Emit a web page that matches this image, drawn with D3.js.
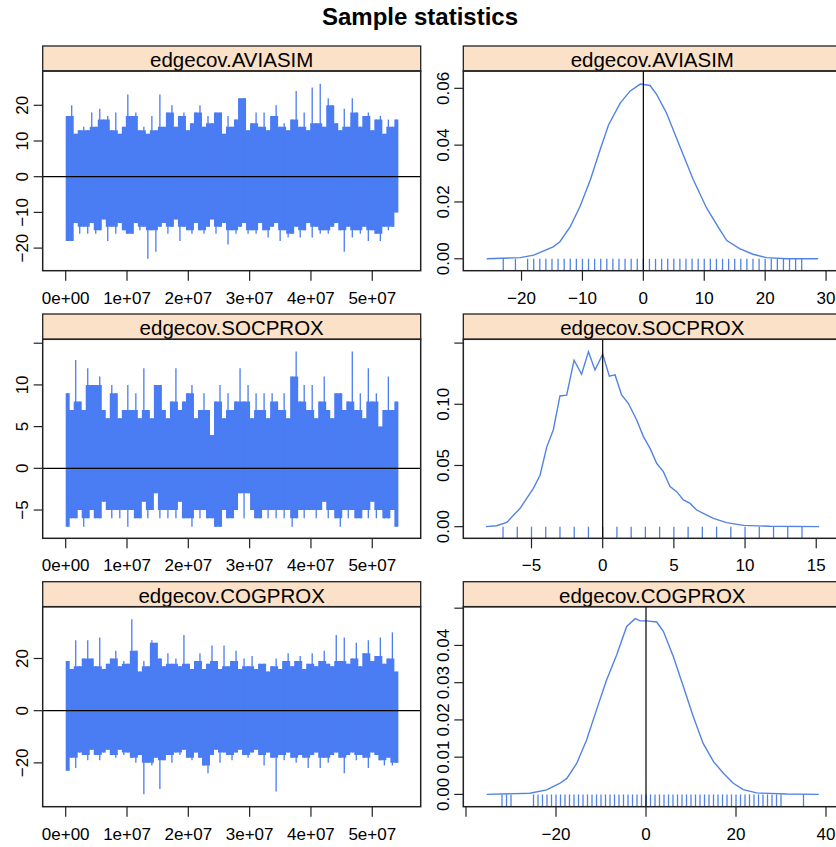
<!DOCTYPE html>
<html>
<head>
<meta charset="utf-8">
<script src="https://cdn.jsdelivr.net/npm/d3@7"></script>
<style>
  body { margin: 0; background: #fff; }
  svg { display: block; font-family: "Liberation Sans", Arial, Helvetica, sans-serif; }
</style>
</head>
<body>
<div id="vis"></div>
<script>
const W = 836, H = 847;

// ---- data ----
const paramNames = ["edgecov.AVIASIM", "edgecov.SOCPROX", "edgecov.COGPROX"];
const lastIter = 54260000;

// trace envelopes, max / min of each bin of iterations
const aviaHi = [17,20,12,13,14,13,18,14,19,16, 17,13,18,12,14,23,17,18,13,14,
  12,17,13,23,14,18,20,14,17,18, 13,15,18,20,14,17,15,18,18,12,
  17,14,16,22,22,13,15,18,14,18, 13,17,20,14,15,13,16,24,14,18,
  13,25,15,26,14,22,20,15,13,19, 14,22,18,14,17,18,13,16,17,12, 16,14,16];
const aviaLo = [-18,-18,-13,-16,-14,-16,-13,-16,-15,-12, -18,-14,-16,-13,-15,-16,-16,-13,-15,-14,
  -23,-15,-21,-14,-13,-16,-14,-12,-18,-14, -15,-16,-13,-15,-16,-14,-12,-16,-14,-13,
  -19,-15,-16,-14,-13,-16,-15,-16,-13,-15, -17,-14,-13,-18,-15,-17,-16,-14,-17,-15,
  -13,-17,-14,-16,-15,-16,-14,-13,-15,-21, -14,-17,-15,-16,-14,-18,-15,-16,-18,-14, -15,-14,-10];

const socHi = [9,7,13,8,7,12,10,10,11,7, 6,10,9,6,7,10,7,9,6,12,
  7,6,10,10,7,6,8,12,7,8, 9,10,6,7,9,7,4,8,10,6,
  9,7,8,12,8,10,6,9,7,9, 6,9,8,7,9,6,11,14,8,10,
  7,10,6,8,11,7,6,9,9,7, 8,14,7,9,6,12,8,9,5,7, 11,7,8];
const socLo = [-7,-6,-6,-5,-7,-6,-5,-6,-6,-4, -5,-6,-5,-6,-5,-7,-5,-6,-6,-4,
  -6,-5,-3,-6,-5,-6,-5,-6,-4,-6, -6,-7,-5,-6,-5,-6,-6,-7,-7,-5,
  -6,-6,-5,-3,-6,-3,-5,-6,-6,-5, -6,-5,-6,-5,-6,-5,-7,-6,-5,-6,
  -5,-5,-6,-5,-4,-6,-5,-6,-7,-5, -6,-5,-6,-6,-5,-6,-4,-6,-5,-6, -6,-5,-7];

const cogHi = [19,16,27,17,20,27,20,17,28,16, 18,20,23,17,19,18,35,23,15,19,
  17,27,26,20,17,22,18,20,17,29, 18,16,19,22,16,18,25,19,16,25,
  17,19,23,16,20,17,21,16,18,18, 15,17,20,16,19,22,17,19,21,16,
  18,22,17,19,23,18,17,29,19,28, 18,20,26,17,22,27,19,21,28,18, 20,30,15];
const cogLo = [-23,-18,-22,-16,-17,-19,-15,-17,-19,-16, -15,-17,-18,-15,-17,-16,-18,-20,-17,-32,
  -20,-21,-18,-30,-19,-17,-20,-16,-17,-15, -18,-19,-16,-18,-21,-24,-17,-15,-20,-16,
  -17,-19,-16,-15,-17,-18,-16,-15,-17,-21, -16,-18,-31,-17,-19,-16,-18,-20,-17,-18,
  -22,-17,-16,-22,-18,-20,-17,-16,-18,-24, -17,-16,-19,-17,-18,-22,-16,-17,-19,-21, -18,-21,-20];

// density curves
const aviaDensX = [-25.7,-20.2,-18.0,-14.8,-13.7,-12.0,-10.4,-8.7,-7.1,-5.7,-3.8,-2.2,-0.5,1.1,2.2,3.8,6.0,8.2,10.4,12.6,13.7,15.8,18.0,20.2,23.5,28.7];
const aviaDensY = [0,0.0004,0.0013,0.0042,0.006,0.0113,0.0184,0.0278,0.0384,0.0472,0.0548,0.059,0.0615,0.061,0.0578,0.0513,0.0395,0.0278,0.0178,0.0101,0.0064,0.0036,0.0016,0.0004,0,0];

const socDensX = [-8.2,-7.45,-6.74,-5.8,-4.87,-4.4,-3.93,-3.47,-3.0,-2.53,-2.01,-1.48,-1.0,-0.54,0,0.47,0.87,1.33,1.8,2.39,2.86,3.33,3.79,4.26,4.73,5.2,5.67,6.14,6.6,7.07,7.78,8.7,9.9,11.76,15.2];
const socDensY = [0,0.0008,0.0035,0.015,0.0313,0.042,0.065,0.079,0.1068,0.1074,0.136,0.1245,0.143,0.128,0.141,0.123,0.124,0.1076,0.1008,0.0872,0.0736,0.064,0.0518,0.045,0.0327,0.0286,0.0218,0.019,0.0136,0.0109,0.0068,0.0033,0.0011,0.0003,0];

const cogDensX = [-35.4,-25.8,-22.1,-19.1,-17.6,-15.4,-13.2,-11.0,-8.74,-6.5,-4.3,-2.4,-1.33,0.15,2.37,3.85,6.07,8.3,10.5,12.7,15.0,17.2,19.4,21.6,24.6,31.3,38.4];
const cogDensY = [0,0.0003,0.0012,0.003,0.0043,0.0083,0.0146,0.0227,0.0308,0.0375,0.0451,0.0472,0.0466,0.0466,0.0463,0.0438,0.037,0.029,0.0209,0.0137,0.0088,0.0057,0.003,0.0013,0.0004,0.0001,0];

// rug values (observed integer statistics)
const aviaRug = [-23,-21,-19,-18,-17,-16,-15,-14,-13,-12,-11,-10,-9,-8,-7,-6,-5,-4,-3,-2,-1,0,
  1,2,3,4,5,6,7,8,9,10,11,12,13,14,15,16,17,18,19,20,21,22,23,24,25,26];
const socRug = [-7,-6,-5,-4,-3,-2,-1,0,1,2,3,4,5,6,7,8,9,10,11,12,13,14];
const cogRug = [-32,-31,-30,-25,-24,-23,-22,-21,-20,-19,-18,-17,-16,-15,-14,-13,-12,-11,-10,-9,-8,-7,-6,-5,-4,-3,-2,-1,0,
  1,2,3,4,5,6,7,8,9,10,11,12,13,14,15,16,17,18,19,20,21,22,23,24,25,26,27,28,29,30,35];

// ticks
const traceXTicks = [0, 1e7, 2e7, 3e7, 4e7, 5e7];
const traceXLabels = ["0e+00", "1e+07", "2e+07", "3e+07", "4e+07", "5e+07"];
const aviaTraceTicks = [-20, -10, 0, 10, 20];
const aviaTraceLabels = ["\u221220", "\u221210", "0", "10", "20"];
const socTraceTicks = [-5, 0, 5, 10, 15];
const socTraceLabels = ["\u22125", "0", "5", "10", ""];
const cogTraceTicks = [-20, 0, 20];
const cogTraceLabels = ["\u221220", "0", "20"];

const aviaDensXTicks = [-20, -10, 0, 10, 20, 30];
const aviaDensXLabels = ["\u221220", "\u221210", "0", "10", "20", "30"];
const aviaDensYTicks = [0, 0.02, 0.04, 0.06];
const aviaDensYLabels = ["0.00", "0.02", "0.04", "0.06"];
const socDensXTicks = [-5, 0, 5, 10, 15];
const socDensXLabels = ["\u22125", "0", "5", "10", "15"];
const socDensYTicks = [0, 0.05, 0.10, 0.15];
const socDensYLabels = ["0.00", "0.05", "0.10", ""];
const cogDensXTicks = [-40, -20, 0, 20, 40];
const cogDensXLabels = ["", "\u221220", "0", "20", "40"];
const cogDensYTicks = [0, 0.01, 0.02, 0.03, 0.04, 0.05];
const cogDensYLabels = ["0.00", "0.01", "0.02", "0.03", "0.04", ""];

// ---- layout ----
const cols = [{ x0: 42.7, x1: 420.7 }, { x0: 463.3, x1: 841.3 }];
const rows = [
  { stripTop: 46, top: 71, bottom: 270.7 },
  { stripTop: 314, top: 339.3, bottom: 538.3 },
  { stripTop: 581.7, top: 606.7, bottom: 806.7 }
];

const traceCol = "#4a7cf3";
const densCol = "#5283e4";
const stripFill = "#fbe1c8";
const frameCol = "#222";

const panels = [
  { row: 0, col: 0, kind: "trace", hi: aviaHi, lo: aviaLo, xDom: [-3.75e6, 5.79e7], yDom: [-26.33, 29.6],
    xt: traceXTicks, xl: traceXLabels, yt: aviaTraceTicks, yl: aviaTraceLabels },
  { row: 0, col: 1, kind: "dens", dx: aviaDensX, dy: aviaDensY, rug: aviaRug, xDom: [-29.56, 32.5], yDom: [-0.0042, 0.0661],
    xt: aviaDensXTicks, xl: aviaDensXLabels, yt: aviaDensYTicks, yl: aviaDensYLabels },
  { row: 1, col: 0, kind: "trace", hi: socHi, lo: socLo, xDom: [-3.75e6, 5.79e7], yDom: [-8.39, 15.47],
    xt: traceXTicks, xl: traceXLabels, yt: socTraceTicks, yl: socTraceLabels },
  { row: 1, col: 1, kind: "dens", dx: socDensX, dy: socDensY, rug: socRug, xDom: [-9.79, 16.76], yDom: [-0.0095, 0.1531],
    xt: socDensXTicks, xl: socDensXLabels, yt: socDensYTicks, yl: socDensYLabels },
  { row: 2, col: 0, kind: "trace", hi: cogHi, lo: cogLo, xDom: [-3.75e6, 5.79e7], yDom: [-36.8, 39.85],
    xt: traceXTicks, xl: traceXLabels, yt: cogTraceTicks, yl: cogTraceLabels },
  { row: 2, col: 1, kind: "dens", dx: cogDensX, dy: cogDensY, rug: cogRug, xDom: [-40.6, 43.4], yDom: [-0.0033, 0.0504],
    xt: cogDensXTicks, xl: cogDensXLabels, yt: cogDensYTicks, yl: cogDensYLabels }
];

const svg = d3.select("#vis").append("svg")
  .attr("width", W)
  .attr("height", H);

svg.append("text")
  .attr("x", 420)
  .attr("y", 25)
  .attr("text-anchor", "middle")
  .style("font-size", "24px")
  .style("font-weight", "bold")
  .text("Sample statistics");

panels.forEach(p => {
  const c = cols[p.col], r = rows[p.row];
  const xs = d3.scaleLinear().domain(p.xDom).range([c.x0, c.x1]);
  const ys = d3.scaleLinear().domain(p.yDom).range([r.bottom, r.top]);
  const g = svg.append("g");

  // strip
  g.append("rect")
    .attr("x", c.x0).attr("y", r.stripTop)
    .attr("width", c.x1 - c.x0).attr("height", r.top - r.stripTop)
    .attr("fill", stripFill).attr("stroke", frameCol).attr("stroke-width", 1.3);
  g.append("text")
    .attr("x", (c.x0 + c.x1) / 2)
    .attr("y", (r.stripTop + r.top) / 2 + 1)
    .attr("text-anchor", "middle")
    .attr("dominant-baseline", "central")
    .style("font-size", "20.5px")
    .text(paramNames[p.row]);

  if (p.kind === "trace") {
    const n = p.hi.length, bw = lastIter / n;
    // body of the trace: a local peak is cut down to its taller neighbour,
    // the peak itself is then drawn as a thin spike
    const body = p.hi.map((h, i) => {
      const nb = Math.max(p.hi[i - 1] ?? h, p.hi[i + 1] ?? h);
      const l = p.lo[i];
      const nl = Math.min(p.lo[i - 1] ?? l, p.lo[i + 1] ?? l);
      return { x: i * bw, hi: Math.min(h, nb), lo: Math.max(l, nl) };
    });
    const pts = [...body, { x: lastIter, hi: body[n - 1].hi, lo: body[n - 1].lo }];

    g.append("path")
      .datum(pts)
      .attr("d", d3.area().curve(d3.curveStepAfter)
        .x(d => xs(d.x)).y0(d => ys(d.lo)).y1(d => ys(d.hi)))
      .attr("fill", traceCol);

    g.selectAll("line.spike")
      .data(p.hi)
      .join("line")
      .attr("class", "spike")
      .attr("x1", (d, i) => xs((i + 0.5) * bw))
      .attr("x2", (d, i) => xs((i + 0.5) * bw))
      .attr("y1", (d, i) => ys(p.lo[i]))
      .attr("y2", d => ys(d))
      .attr("stroke", traceCol)
      .attr("stroke-width", 1.3);

    // zero reference
    g.append("line")
      .attr("x1", c.x0).attr("x2", c.x1)
      .attr("y1", ys(0)).attr("y2", ys(0))
      .attr("stroke", "#000").attr("stroke-width", 1.2);
  } else {
    const dens = p.dx.map((x, i) => [x, p.dy[i]]);
    g.append("path")
      .datum(dens)
      .attr("d", d3.line().x(d => xs(d[0])).y(d => ys(d[1])))
      .attr("fill", "none")
      .attr("stroke", densCol)
      .attr("stroke-width", 1.4);

    g.selectAll("line.rug")
      .data(p.rug)
      .join("line")
      .attr("class", "rug")
      .attr("x1", d => xs(d)).attr("x2", d => xs(d))
      .attr("y1", r.bottom).attr("y2", ys(0))
      .attr("stroke", densCol)
      .attr("stroke-width", 1.3);

    g.append("line")
      .attr("x1", xs(0)).attr("x2", xs(0))
      .attr("y1", r.top).attr("y2", r.bottom)
      .attr("stroke", "#000").attr("stroke-width", 1.2);
  }

  // frame
  g.append("rect")
    .attr("x", c.x0).attr("y", r.top)
    .attr("width", c.x1 - c.x0).attr("height", r.bottom - r.top)
    .attr("fill", "none").attr("stroke", frameCol).attr("stroke-width", 1.5);

  // x axis
  p.xt.forEach((t, i) => {
    g.append("line")
      .attr("x1", xs(t)).attr("x2", xs(t))
      .attr("y1", r.bottom).attr("y2", r.bottom + 10)
      .attr("stroke", frameCol).attr("stroke-width", 1.2);
    if (p.xl[i]) {
      g.append("text")
        .attr("x", xs(t))
        .attr("y", r.bottom + 27.5)
        .attr("text-anchor", "middle")
        .attr("dominant-baseline", "central")
        .style("font-size", "17px")
        .text(p.xl[i]);
    }
  });

  // y axis (labels rotated like lattice)
  p.yt.forEach((t, i) => {
    g.append("line")
      .attr("x1", c.x0 - 9).attr("x2", c.x0)
      .attr("y1", ys(t)).attr("y2", ys(t))
      .attr("stroke", frameCol).attr("stroke-width", 1.2);
    if (p.yl[i]) {
      g.append("text")
        .attr("transform", `translate(${c.x0 - 20},${ys(t)}) rotate(-90)`)
        .attr("text-anchor", "middle")
        .attr("dominant-baseline", "central")
        .style("font-size", "17px")
        .text(p.yl[i]);
    }
  });
});
</script>
</body>
</html>
